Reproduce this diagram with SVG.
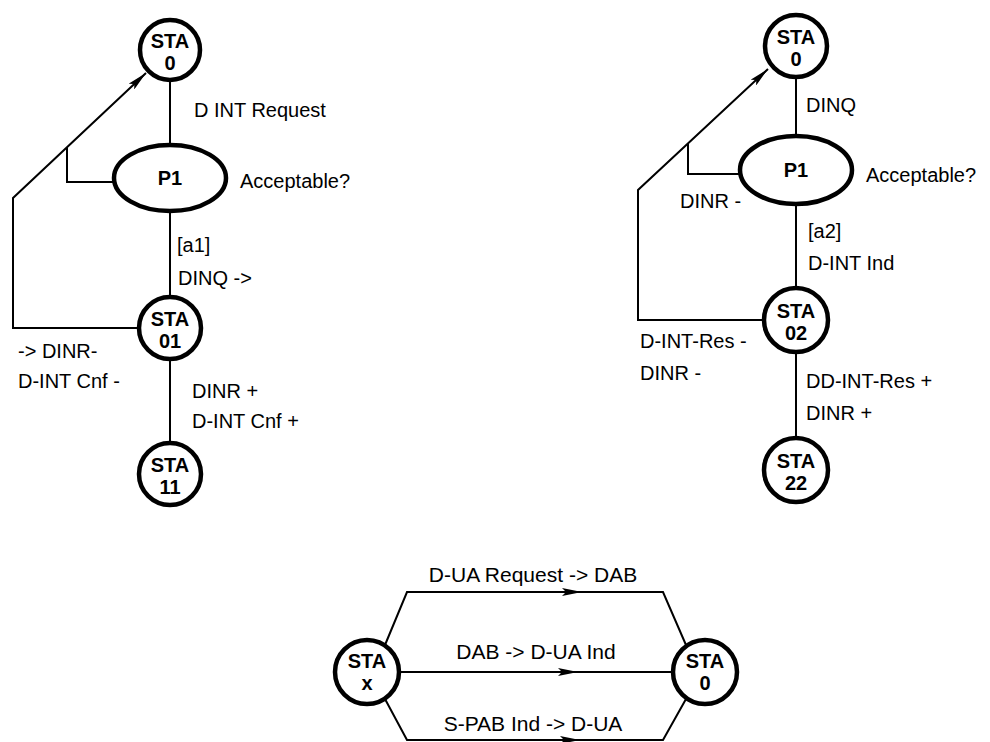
<svg xmlns="http://www.w3.org/2000/svg" width="990" height="742" viewBox="0 0 990 742">
<style>
  .bg { fill: #ffffff; }
  .state { fill: #ffffff; stroke: #000000; stroke-width: 4.5; }
  .conn { fill: none; stroke: #000000; stroke-width: 2; }
  .lbl { font-family: "Liberation Sans", Arial, sans-serif; font-size: 20px; fill: #000000; }
  .blbl { font-family: "Liberation Sans", Arial, sans-serif; font-size: 21px; fill: #000000; text-anchor: middle; }
  .nl { font-family: "Liberation Sans", Arial, sans-serif; font-size: 20px; font-weight: bold; fill: #000000; text-anchor: middle; }
</style>
<defs>
  <marker id="arr" viewBox="0 0 20 8" refX="20" refY="4" markerWidth="20" markerHeight="8" orient="auto" markerUnits="userSpaceOnUse">
    <path d="M0,0 L20,4 L0,8 L4,4 z" fill="#000000"/>
  </marker>
</defs>
<rect class="bg" x="0" y="0" width="990" height="742"/>

<g id="connectors">
  <!-- left diagram -->
  <path class="conn" d="M170,81 V145"/>
  <path class="conn" d="M170,211 V297"/>
  <path class="conn" d="M170,359 V443"/>
  <path class="conn" d="M139,328 H13 V198 L146,73" marker-end="url(#arr)"/>
  <path class="conn" d="M114,182 H67 V147"/>
  <!-- right diagram -->
  <path class="conn" d="M796,77 V136"/>
  <path class="conn" d="M796,204 V288"/>
  <path class="conn" d="M796,352 V438"/>
  <path class="conn" d="M764,320 H638 V190 L768,69" marker-end="url(#arr)"/>
  <path class="conn" d="M740,174 H688 V144"/>
  <!-- bottom diagram -->
  <path class="conn" d="M385,645 L407,592 H582" marker-end="url(#arr)"/>
  <path class="conn" d="M580,592 H663 L686,645"/>
  <path class="conn" d="M399,672 H578" marker-end="url(#arr)"/>
  <path class="conn" d="M576,672 H673"/>
  <path class="conn" d="M385,699 L407,740 H580" marker-end="url(#arr)"/>
  <path class="conn" d="M578,740 H663 L686,699"/>
</g>

<g id="left-sta0">
  <circle class="state" cx="170" cy="50" r="30"/>
  <text class="nl" x="170" y="48">STA</text>
  <text class="nl" x="170" y="70">0</text>
</g>
<g id="left-p1">
  <ellipse class="state" cx="170" cy="178" rx="56" ry="33"/>
  <text class="nl" x="170" y="185">P1</text>
</g>
<g id="left-sta01">
  <circle class="state" cx="170" cy="328" r="31"/>
  <text class="nl" x="170" y="326">STA</text>
  <text class="nl" x="170" y="348">01</text>
</g>
<g id="left-sta11">
  <circle class="state" cx="170" cy="474" r="31"/>
  <text class="nl" x="170" y="472">STA</text>
  <text class="nl" x="170" y="494">11</text>
</g>

<g id="right-sta0">
  <circle class="state" cx="796" cy="46" r="31"/>
  <text class="nl" x="796" y="44">STA</text>
  <text class="nl" x="796" y="66">0</text>
</g>
<g id="right-p1">
  <ellipse class="state" cx="796" cy="170" rx="56" ry="34"/>
  <text class="nl" x="796" y="177">P1</text>
</g>
<g id="right-sta02">
  <circle class="state" cx="796" cy="320" r="32"/>
  <text class="nl" x="796" y="318">STA</text>
  <text class="nl" x="796" y="340">02</text>
</g>
<g id="right-sta22">
  <circle class="state" cx="796" cy="470" r="32"/>
  <text class="nl" x="796" y="468">STA</text>
  <text class="nl" x="796" y="490">22</text>
</g>

<g id="bottom-stax">
  <circle class="state" cx="367" cy="672" r="32"/>
  <text class="nl" x="367" y="668">STA</text>
  <text class="nl" x="367" y="690">x</text>
</g>
<g id="bottom-sta0">
  <circle class="state" cx="705" cy="672" r="32"/>
  <text class="nl" x="705" y="668">STA</text>
  <text class="nl" x="705" y="690">0</text>
</g>

<g id="labels">
  <text class="lbl" x="194" y="117">D INT Request</text>
  <text class="lbl" x="240" y="188">Acceptable?</text>
  <text class="lbl" x="177" y="252">[a1]</text>
  <text class="lbl" x="178" y="285">DINQ -&gt;</text>
  <text class="lbl" x="18" y="358">-&gt; DINR-</text>
  <text class="lbl" x="18" y="388">D-INT Cnf -</text>
  <text class="lbl" x="192" y="398">DINR +</text>
  <text class="lbl" x="192" y="428">D-INT Cnf +</text>

  <text class="lbl" x="806" y="112">DINQ</text>
  <text class="lbl" x="866" y="182">Acceptable?</text>
  <text class="lbl" x="680" y="208">DINR -</text>
  <text class="lbl" x="808" y="238">[a2]</text>
  <text class="lbl" x="808" y="270">D-INT Ind</text>
  <text class="lbl" x="640" y="348">D-INT-Res -</text>
  <text class="lbl" x="640" y="380">DINR -</text>
  <text class="lbl" x="806" y="388">DD-INT-Res +</text>
  <text class="lbl" x="806" y="420">DINR +</text>

  <text class="blbl" x="533" y="582">D-UA Request -&gt; DAB</text>
  <text class="blbl" x="536" y="659">DAB -&gt; D-UA Ind</text>
  <text class="blbl" x="533" y="731">S-PAB Ind -&gt; D-UA</text>
</g>
</svg>
